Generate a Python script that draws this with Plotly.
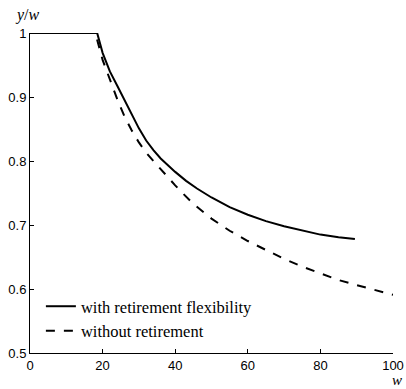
import plotly.graph_objects as go

# Data
w_flex = [0, 18.5, 20, 22, 24, 26, 28, 30, 32, 34, 36, 38, 40, 43, 46, 50, 55, 60,
          65, 70, 75, 80, 85, 89.5]
y_flex = [1, 1, 0.969, 0.940, 0.918, 0.895, 0.872, 0.851, 0.832, 0.817, 0.804, 0.793,
          0.783, 0.769, 0.757, 0.743, 0.728, 0.716, 0.706, 0.698, 0.691, 0.685,
          0.681, 0.678]

w_noret = [0, 18, 20, 22, 24, 26, 28, 30, 32, 34, 36, 38, 40, 42, 45, 50, 55, 60, 65,
           70, 75, 80, 85, 90, 95, 100]
y_noret = [1, 1, 0.958, 0.927, 0.897, 0.870, 0.848, 0.829, 0.813, 0.800, 0.787, 0.774,
           0.762, 0.750, 0.733, 0.710, 0.691, 0.675, 0.661, 0.647, 0.635, 0.624, 0.614,
           0.606, 0.598, 0.591]

x_ticks = [0, 20, 40, 60, 80, 100]
y_ticks = [0.5, 0.6, 0.7, 0.8, 0.9, 1]
y_tick_text = ["0.5", "0.6", "0.7", "0.8", "0.9", "1"]

serif = "Liberation Serif"
sans = "Liberation Sans"

fig = go.Figure()
fig.add_trace(go.Scatter(x=w_flex, y=y_flex, mode="lines",
                         name="with retirement flexibility",
                         line=dict(color="black", width=2)))
fig.add_trace(go.Scatter(x=w_noret, y=y_noret, mode="lines",
                         name="without retirement",
                         line=dict(color="black", width=2, dash="dash")))

fig.update_layout(
    width=406, height=389,
    margin=dict(l=30, r=13, t=33, b=36),
    paper_bgcolor="white", plot_bgcolor="white",
    showlegend=True,
    legend=dict(x=0.03, y=0.2, xanchor="left", yanchor="top",
                bgcolor="rgba(0,0,0,0)", font=dict(family=serif, size=16.5, color="black"),
                itemwidth=30, tracegroupgap=0),
    xaxis=dict(range=[0, 100], tickvals=x_ticks, ticks="inside", ticklen=4,
               tickcolor="black", showline=True, linecolor="black", linewidth=1,
               showgrid=False, zeroline=False, automargin=False,
               tickfont=dict(family=sans, size=13, color="black")),
    yaxis=dict(range=[0.5, 1], tickvals=y_ticks, ticktext=y_tick_text, ticks="inside",
               ticklen=4, tickcolor="black", showline=True, linecolor="black",
               linewidth=1, showgrid=False, zeroline=False, automargin=False,
               tickfont=dict(family=sans, size=13, color="black")),
    annotations=[
        dict(text="<i>y</i>/<i>w</i>", x=0, y=1, xref="paper", yref="paper",
             xanchor="center", yanchor="bottom", yshift=7, xshift=-3, showarrow=False,
             font=dict(family=serif, size=16, color="black")),
        dict(text="<i>w</i>", x=1, y=0, xref="paper", yref="paper",
             xanchor="center", yanchor="top", yshift=-17, xshift=4, showarrow=False,
             font=dict(family=serif, size=15, color="black")),
    ],
)

fig.write_html("out.html")
